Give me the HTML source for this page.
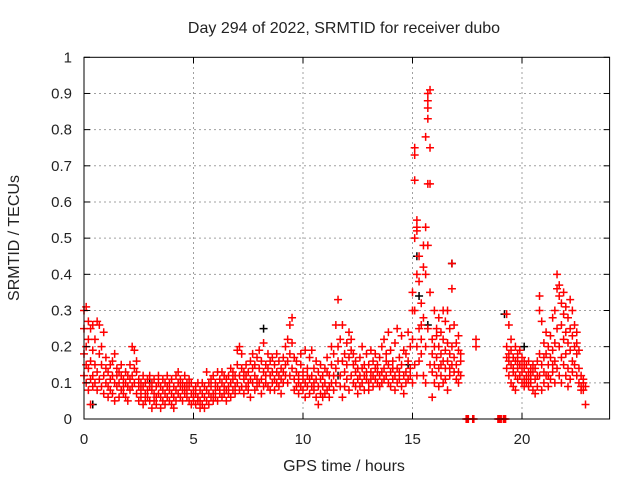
<!DOCTYPE html>
<html><head><meta charset="utf-8"><style>
html,body{margin:0;padding:0;background:#fff}
svg{display:block;font-family:"Liberation Sans",sans-serif}
</style></head><body>
<svg id="chart" width="640" height="480" viewBox="0 0 640 480" xmlns="http://www.w3.org/2000/svg">
<rect width="640" height="480" fill="#fff"/>
<text x="344" y="33" font-size="16" text-anchor="middle" fill="#222">Day 294 of 2022, SRMTID for receiver dubo</text>
<text transform="translate(19,238) rotate(-90)" font-size="16" text-anchor="middle" fill="#222">SRMTID / TECUs</text>
<text x="344" y="471" font-size="16" text-anchor="middle" fill="#222">GPS time / hours</text>
<g id="grid"></g>
<g id="marks"></g>
<g id="axes"></g>
</svg>
<script>
const xTicks=[0,5,10,15,20];
const yTicks=[0,0.1,0.2,0.3,0.4,0.5,0.6,0.7,0.8,0.9,1];
const yTickLabels=["0","0.1","0.2","0.3","0.4","0.5","0.6","0.7","0.8","0.9","1"];
const groupTimes=[0.0,0.1,0.2,0.3,0.4,0.5,0.6,0.7,0.8,0.9,1.0,1.1,1.2,1.3,1.4,1.5,1.6,1.7,1.8,1.9,2.0,2.1,2.2,2.3,2.4,2.5,2.6,2.7,2.8,2.9,3.0,3.1,3.2,3.3,3.4,3.5,3.6,3.7,3.8,3.9,4.0,4.1,4.2,4.3,4.4,4.5,4.6,4.7,4.8,4.9,5.0,5.1,5.2,5.3,5.4,5.5,5.6,5.7,5.8,5.9,6.0,6.1,6.2,6.3,6.4,6.5,6.6,6.7,6.8,6.9,7.0,7.1,7.2,7.3,7.4,7.5,7.6,7.7,7.8,7.9,8.0,8.1,8.2,8.3,8.4,8.5,8.6,8.7,8.8,8.9,9.0,9.1,9.2,9.3,9.4,9.5,9.6,9.7,9.8,9.9,10.0,10.1,10.2,10.3,10.4,10.5,10.6,10.7,10.8,10.9,11.0,11.1,11.2,11.3,11.4,11.5,11.6,11.7,11.8,11.9,12.0,12.1,12.2,12.3,12.4,12.5,12.6,12.7,12.8,12.9,13.0,13.1,13.2,13.3,13.4,13.5,13.6,13.7,13.8,13.9,14.0,14.1,14.2,14.3,14.4,14.5,14.6,14.7,14.8,14.9,15.0,15.1,15.2,15.3,15.4,15.5,15.6,15.7,15.8,15.9,16.0,16.1,16.2,16.3,16.4,16.5,16.6,16.7,16.8,16.9,17.0,17.1,17.2,17.9,19.3,19.4,19.5,19.6,19.7,19.8,19.9,20.0,20.1,20.2,20.3,20.4,20.5,20.6,20.7,20.8,20.9,21.0,21.1,21.2,21.3,21.4,21.5,21.6,21.7,21.8,21.9,22.0,22.1,22.2,22.3,22.4,22.5,22.6,22.7,22.8,22.9];
const groupValues=[
[.30,.12,.18,.25],[.31,.10,.20,.15],[.27,.08,.14,.22],[.04,.16,.25,.11],[.12,.19,.26,.09],[.10,.22,.15],[.27,.13,.08],[.18,.11,.26],[.15,.09,.20],[.24,.12,.07],
[.14,.10,.17],[.09,.13,.06],[.11,.15,.08],[.12,.07,.16],[.18,.10,.05],[.14,.09,.12],[.10,.06,.13],[.08,.12,.15],[.11,.07,.09],[.13,.06,.10],
[.09,.12,.05],[.15,.08,.11],[.20,.12,.09],[.19,.10,.14],[.13,.07,.16],[.09,.11,.05],[.06,.10,.08],[.12,.04,.09],[.07,.10,.05],[.11,.06,.08],
[.05,.09,.12],[.08,.03,.10],[.07,.11,.05],[.09,.06,.04],[.10,.07,.12],[.06,.09,.03],[.08,.05,.11],[.07,.10,.04],[.09,.06,.12],[.05,.08,.10],
[.07,.11,.04],[.09,.06,.03],[.12,.08,.05],[.10,.07,.13],[.06,.09,.11],[.08,.05,.10],[.07,.12,.09],[.10,.06,.08],[.09,.11,.05],[.07,.04,.10],
[.08,.06,.05],[.09,.04,.07],[.06,.10,.05],[.05,.08,.03],[.07,.04,.10],[.06,.03,.09],[.08,.05,.13],[.04,.07,.10],[.09,.06,.11],[.07,.05,.12],
[.10,.08,.06],[.09,.13,.05],[.11,.07,.08],[.06,.10,.13],[.09,.12,.07],[.08,.11,.05],[.12,.07,.09],[.10,.14,.06],[.08,.11,.13],[.12,.09,.07],
[.15,.10,.19],[.20,.12,.08],[.14,.18,.09],[.11,.07,.13],[.09,.12,.15],[.13,.08,.10],[.16,.11,.06],[.10,.14,.18],[.12,.08,.15],[.17,.09,.11],
[.14,.10,.19],[.11,.16,.07],[.13,.09,.21],[.15,.10,.12],[.09,.14,.18],[.12,.16,.08],[.10,.13,.17],[.15,.08,.11],[.13,.18,.10],[.09,.12,.16],
[.14,.11,.07],[.17,.10,.13],[.12,.15,.20],[.16,.22,.10],[.26,.18,.12],[.28,.14,.21],[.11,.17,.08],[.09,.13,.16],[.12,.07,.10],[.15,.09,.18],
[.08,.13,.11],[.10,.19,.06],[.14,.09,.12],[.17,.11,.07],[.12,.19,.09],[.08,.14,.10],[.11,.06,.16],[.09,.13,.04],[.07,.11,.15],[.12,.06,.09],
[.10,.14,.07],[.13,.08,.17],[.09,.12,.06],[.15,.10,.20],[.18,.12,.08],[.26,.14,.10],[.33,.20,.16],[.22,.09,.12],[.06,.16,.26],[.18,.13,.09],
[.21,.11,.15],[.24,.17,.08],[.12,.19,.22],[.15,.10,.18],[.13,.09,.16],[.11,.14,.07],[.17,.12,.09],[.14,.20,.10],[.12,.08,.15],[.18,.11,.13],
[.10,.15,.08],[.13,.19,.11],[.16,.09,.12],[.11,.14,.18],[.15,.10,.13],[.12,.17,.09],[.20,.13,.10],[.14,.22,.11],[.18,.12,.16],[.10,.15,.24],
[.13,.19,.09],[.16,.11,.14],[.21,.12,.08],[.14,.25,.10],[.11,.17,.13],[.09,.15,.23],[.19,.12,.07],[.13,.18,.10],[.16,.24,.11],[.12,.20,.14],
[.35,.22,.10,.30],[.66,.73,.75,.50,.30,.15],[.55,.52,.53,.40,.20,.12],[.45,.38,.25,.16],[.32,.22,.18,.26],[.48,.42,.28,.12],[.78,.53,.40,.20,.10],[.90,.88,.86,.83,.65,.48,.25],[.91,.75,.65,.35,.15],[.22,.18,.13,.06],
[.30,.20,.15,.10],[.25,.17,.12,.23],[.20,.14,.28,.09],[.18,.24,.12,.15],[.22,.16,.10,.30],[.27,.19,.14,.11],[.30,.21,.16,.08],[.25,.18,.12,.14],[.43,.36,.20,.15],[.26,.17,.13],
[.21,.15,.11],[.19,.13,.10,.23],[.16,.12,.18],[.22,.20],
[.29,.17,.14,.20],[.26,.18,.12,.16],[.22,.15,.10,.19],[.17,.13,.09,.14],[.20,.16,.12,.08],[.18,.14,.11,.16],[.15,.12,.19],
[.17,.13,.10,.15],[.14,.11,.16,.09],[.12,.15,.10],[.16,.13,.09,.11],[.14,.10,.12],[.13,.08,.15],[.11,.07,.14],[.16,.12,.09],[.34,.30,.18,.12],[.27,.15,.08],
[.21,.13,.10,.17],[.18,.12,.24],[.15,.09,.20,.12],[.23,.17,.11],[.28,.19,.13,.15],[.30,.21,.10,.16],[.40,.36,.25,.14],[.37,.34,.20,.12],[.32,.26,.17,.10],[.35,.29,.22,.15],
[.31,.24,.18,.12],[.28,.21,.14,.09],[.33,.25,.19,.11],[.30,.23,.16,.13],[.26,.20,.15],[.24,.18,.12,.21],[.19,.14,.10],[.12,.09,.08],[.10,.08,.11],[.04,.09]
];
const zeroTimes=[17.45,17.5,17.55,17.75,17.8,18.9,18.95,19.0,19.05,19.15,19.2,19.25];
const blackTimes=[0.4,8.2,15.2,15.3,16.8,19.2,11.6,3.0,14.8,20.1,15.7];
const blackValues=[0.04,0.25,0.45,0.34,0.43,0.29,0.12,0.10,0.15,0.20,0.26];

const X0=84,X1=609.6,Y0=419,Y1=57.3,XMAX=24;
const xs=t=>X0+(X1-X0)*t/XMAX;
const ys=v=>Y0-(Y0-Y1)*v;
const NS="http://www.w3.org/2000/svg";
function mk(tag,attrs,parent){const e=document.createElementNS(NS,tag);for(const k in attrs)e.setAttribute(k,attrs[k]);parent.appendChild(e);return e;}
const grid=document.getElementById('grid'),axes=document.getElementById('axes'),marks=document.getElementById('marks');

yTicks.forEach((v,i)=>{
  const y=ys(v);
  if(v>0&&v<1){const g=mk('line',{x1:X0,x2:X1,y1:y,y2:y,stroke:'#a0a0a0','stroke-dasharray':'2,3','stroke-width':1},grid);
  
  }
  mk('line',{x1:X0,x2:X0+6,y1:y,y2:y,stroke:'#000'},axes);
  mk('line',{x1:X1,x2:X1-6,y1:y,y2:y,stroke:'#000'},axes);
  const t=mk('text',{x:72,y:y+5,'font-size':15,'text-anchor':'end',fill:'#222'},axes);
  t.textContent=yTickLabels[i];
  
  
});
xTicks.forEach(v=>{
  const x=xs(v);
  if(v>0){const g=mk('line',{x1:x,x2:x,y1:Y0,y2:Y1,stroke:'#a0a0a0','stroke-dasharray':'2,3','stroke-width':1},grid);
  
  }
  mk('line',{x1:x,x2:x,y1:Y0,y2:Y0-6,stroke:'#000'},axes);
  mk('line',{x1:x,x2:x,y1:Y1,y2:Y1+6,stroke:'#000'},axes);
  const t=mk('text',{x:x,y:444,'font-size':15,'text-anchor':'middle',fill:'#222'},axes);
  t.textContent=String(v);
  
  
});
const frame=mk('rect',{x:X0,y:Y1,width:X1-X0,height:Y0-Y1,fill:'none',stroke:'#000','stroke-width':1},axes);



function plus(t,v,color){
  const x=xs(t),y=ys(v);
  const p=mk('path',{d:`M${x-4},${y}H${x+4}M${x},${y-4}V${y+4}`,stroke:color,'stroke-width':1.5,fill:'none'},marks);
  
  
}
blackTimes.forEach((t,i)=>plus(t,blackValues[i],'#000'));
groupTimes.forEach((t,i)=>groupValues[i].forEach(v=>plus(t,v,'#f00')));
zeroTimes.forEach(t=>plus(t,0,'#f00'));
</script>
</body></html>
